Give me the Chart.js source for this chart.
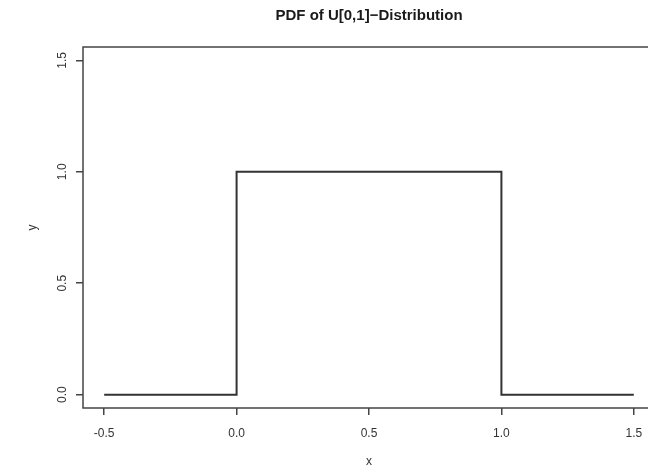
<!DOCTYPE html>
<html>
<head>
<meta charset="utf-8">
<script src="https://cdn.jsdelivr.net/npm/chart.js@4"></script>
<style>
  html, body { margin: 0; padding: 0; background: #fff; overflow: hidden; }
  #wrap { width: 648px; height: 472px; overflow: hidden; }
</style>
</head>
<body>
<div id="wrap"><canvas id="myChart" width="664" height="472"></canvas></div>
<script>
// step function of the U[0,1] density
const xValues = [-0.5, 0, 0, 1, 1, 1.5];
const yValues = [0, 0, 1, 1, 0, 0];
const xTicks = [-0.5, 0, 0.5, 1, 1.5];
const yTicks = [0, 0.5, 1, 1.5];
const titleText = 'PDF of U[0,1]\u2212Distribution';

const font = "'Liberation Sans', Arial, Helvetica, sans-serif";

// R-style box around the plot region, and the main title centred over it
const boxPlugin = {
  id: 'box',
  afterDraw(chart) {
    const a = chart.chartArea;
    const c = chart.ctx;
    c.save();
    c.strokeStyle = '#444';
    c.lineWidth = 1.5;
    c.strokeRect(a.left, a.top, a.right - a.left, a.bottom - a.top);

    c.fillStyle = '#1a1a1a';
    c.font = 'bold 15px ' + font;
    c.textAlign = 'center';
    c.textBaseline = 'middle';
    c.fillText(titleText, (a.left + a.right) / 2, 16);
    c.restore();
  }
};

const points = xValues.map((x, i) => ({ x: x, y: yValues[i] }));

new Chart(document.getElementById('myChart'), {
  type: 'line',
  data: {
    datasets: [{
      data: points,
      borderColor: '#333',
      borderWidth: 2,
      pointRadius: 0,
      tension: 0,
      fill: false
    }]
  },
  options: {
    responsive: false,
    animation: false,
    layout: { padding: { left: 0, right: 9, top: 47, bottom: 0 } },
    plugins: {
      legend: { display: false },
      tooltip: { enabled: false },
      title: { display: false }
    },
    scales: {
      x: {
        type: 'linear',
        min: -0.58,
        max: 1.58,
        afterBuildTicks: s => { s.ticks = xTicks.map(v => ({ value: v })); },
        afterFit: s => { s.height = 64; },
        grid: { drawOnChartArea: false, drawTicks: true, tickLength: 7, color: '#444', lineWidth: 1.5 },
        border: { display: false },
        ticks: {
          color: '#333',
          font: { family: font, size: 12 },
          padding: 11,
          maxRotation: 0,
          callback: v => v.toFixed(1)
        },
        title: {
          display: true,
          text: 'x',
          color: '#333',
          font: { family: font, size: 12 },
          padding: { top: 0, bottom: 3 }
        }
      },
      y: {
        type: 'linear',
        min: -0.06,
        max: 1.56,
        afterBuildTicks: s => { s.ticks = yTicks.map(v => ({ value: v })); },
        afterFit: s => { s.width = 83; },
        grid: { drawOnChartArea: false, drawTicks: true, tickLength: 7, color: '#444', lineWidth: 1.5 },
        border: { display: false },
        ticks: {
          color: '#333',
          font: { family: font, size: 12 },
          padding: 5,
          minRotation: 90,
          maxRotation: 90,
          crossAlign: 'center',
          callback: v => v.toFixed(1)
        },
        title: {
          display: true,
          text: 'y',
          color: '#333',
          font: { family: font, size: 12 },
          padding: { top: 25, bottom: 0 }
        }
      }
    }
  },
  plugins: [boxPlugin]
});
</script>
</body>
</html>
